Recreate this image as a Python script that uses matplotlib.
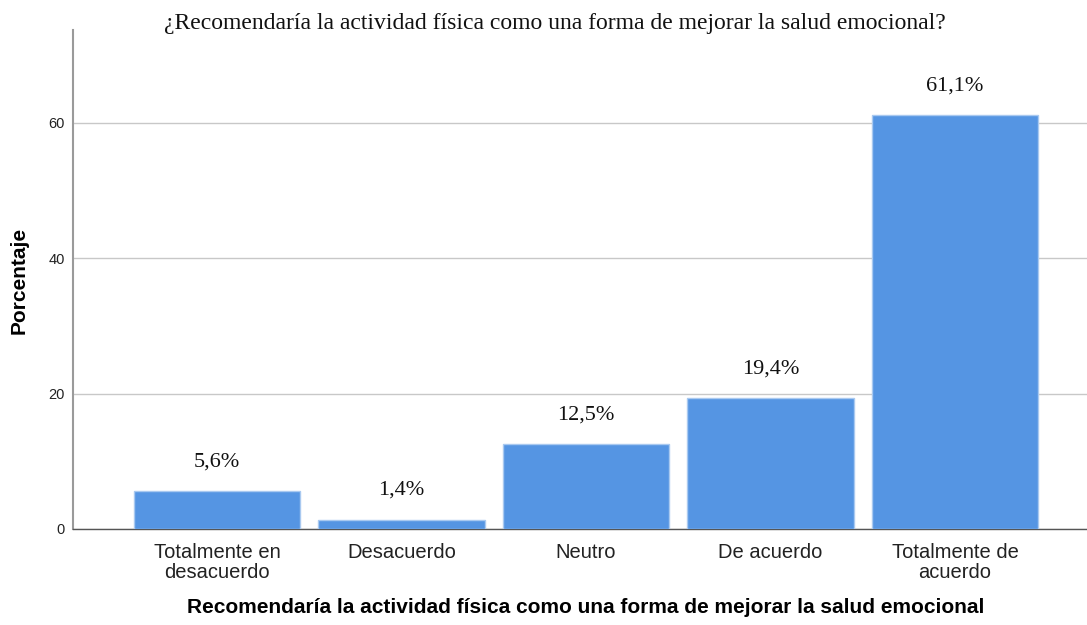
import matplotlib
matplotlib.use("Agg")
import matplotlib.pyplot as plt
from matplotlib.transforms import offset_copy

categories = ["Totalmente en\ndesacuerdo", "Desacuerdo", "Neutro", "De acuerdo", "Totalmente de\nacuerdo"]
percentages = [5.6, 1.4, 12.5, 19.4, 61.1]
value_labels = ["5,6%", "1,4%", "12,5%", "19,4%", "61,1%"]
y_ticks = [0, 20, 40, 60]

title = "¿Recomendaría la actividad física como una forma de mejorar la salud emocional?"
x_label = "Recomendaría la actividad física como una forma de mejorar la salud emocional"
y_label = "Porcentaje"

SANS = "Liberation Sans"
SERIF = "Liberation Serif"

fig = plt.figure(figsize=(10.87, 6.25), dpi=100)
ax = fig.add_axes([73 / 1087, 1 - 529 / 625, 1 - 73 / 1087, (529 - 30) / 625])

x = list(range(len(categories)))
ax.bar(x, percentages, width=0.9, color="#5595e3", edgecolor="#a9c9f0", linewidth=1, zorder=3)

ax.set_xlim(-0.78, 4.715)
ax.set_ylim(0, 73.7)
ax.set_yticks(y_ticks)
ax.set_yticklabels([str(t) for t in y_ticks], family=SANS, fontsize=10.5, color="#222222")
ax.set_xticks(x)
ax.set_xticklabels(categories, family=SANS, fontsize=14.5, color="#222222", linespacing=1.05)
ax.tick_params(axis="both", length=0)
ax.tick_params(axis="x", pad=10)
ax.tick_params(axis="y", pad=6)

ax.yaxis.grid(True, color="#c8c8c8", linewidth=1, zorder=0)
ax.set_axisbelow(True)
for side in ("top", "right"):
    ax.spines[side].set_visible(False)
ax.spines["left"].set_color("#9a9a9a")
ax.spines["left"].set_linewidth(1.5)
ax.spines["bottom"].set_color("#555555")
ax.spines["bottom"].set_linewidth(1)

# labels above the bars
trans = offset_copy(ax.transData, fig=fig, x=0, y=29, units="dots")
for xi, val, lab in zip(x, percentages, value_labels):
    ax.text(xi, val, lab, transform=trans, ha="center", va="center",
            family=SERIF, fontsize=16, color="#111111")

ax.set_xlabel(x_label, family=SANS, fontsize=15, fontweight="bold")
ax.xaxis.set_label_coords((586 - 73) / (1087 - 73), -(598 - 529) / 499)
ax.set_ylabel(y_label, family=SANS, fontsize=15, fontweight="bold")
ax.yaxis.set_label_coords(-(73 - 29) / 1014, (529 - 280) / 499)

fig.text(555 / 1087, 1 - 23 / 625, title, ha="center", va="center",
         family=SERIF, fontsize=17, color="#111111")

fig.savefig("out.png", dpi=100)
